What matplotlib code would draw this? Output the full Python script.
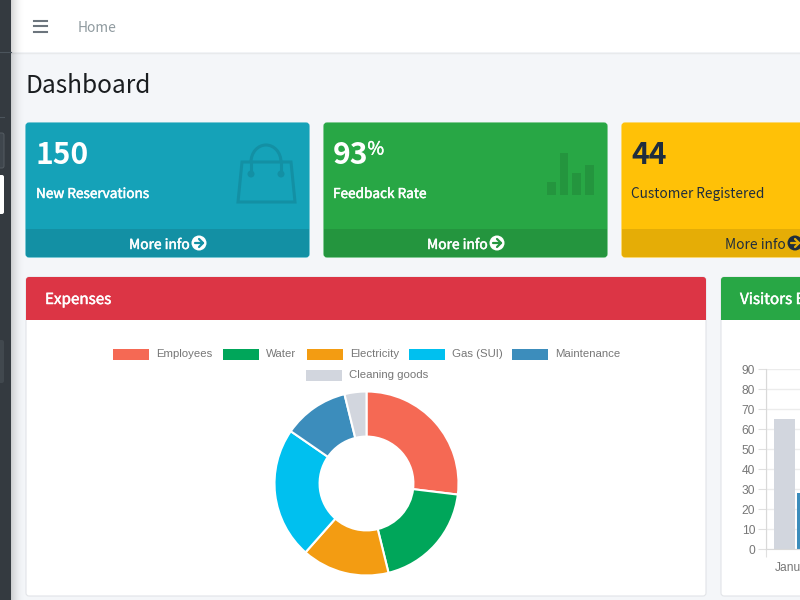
import matplotlib
matplotlib.use("Agg")
import matplotlib.pyplot as plt
import matplotlib.patheffects as pe
from matplotlib.patches import Rectangle, FancyBboxPatch, Circle, Polygon, Arc

# the latin letters of this family are the closest to the page's font
plt.rcParams["font.family"] = ["Noto Sans CJK SC", "DejaVu Sans"]

# expenses doughnut
expense_names = ["Employees", "Water", "Electricity", "Gas (SUI)", "Maintenance", "Cleaning goods"]
expense_values = [700, 500, 400, 600, 300, 100]
expense_colors = ["#f56954", "#00a65a", "#f39c12", "#00c0ef", "#3c8dbc", "#d2d6de"]

# visitors bars, only the start of it is on screen
months = ["January", "February", "March", "April", "May", "June", "July"]
visitors_a = [65, 59, 80, 81, 56, 55, 40]
visitors_b = [28, 48, 40, 19, 86, 27, 90]
y_ticks = [0, 10, 20, 30, 40, 50, 60, 70, 80, 90]

# small boxes on top
box_values = ["150", "93", "44"]
box_labels = ["New Reservations", "Feedback Rate", "Customer Registered"]
box_colors = ["#15a2b8", "#28a745", "#ffc107"]
box_footers = ["#1390a4", "#24953e", "#e5ad06"]
box_text = ["white", "white", "#1f2d3d"]
box_left = [26, 324, 622]
icon_bars = [13, 42, 22, 30]

fig = plt.figure(figsize=(8, 6), dpi=100, facecolor="#f4f6f9")

# one big axes in pixel coordinates for the page itself
page = fig.add_axes([0, 0, 1, 1])
page.set_xlim(0, 800)
page.set_ylim(600, 0)
page.axis("off")


def px(size):
    return size * 0.72


def card(x, y, w, h, color, edge="#e2e4e8"):
    patch = FancyBboxPatch((x, y), w, h, boxstyle="round,pad=0,rounding_size=3",
                           fc=color, ec=edge, lw=0.8, zorder=2)
    page.add_patch(patch)
    return patch


def arrow_icon(cx, cy, circle_color, arrow_color):
    page.add_patch(Circle((cx, cy), 7.5, fc=circle_color, ec="none", zorder=5))
    page.plot([cx - 4, cx + 4], [cy, cy], color=arrow_color, lw=1.6, zorder=6, solid_capstyle="round")
    page.plot([cx, cx + 4, cx], [cy - 4, cy, cy + 4], color=arrow_color, lw=1.6, zorder=6,
              solid_capstyle="round")


def thicken(text, color):
    # no medium weight in the font, a thin outline does the same
    text.set_path_effects([pe.withStroke(linewidth=0.35, foreground=color)])


# navbar
page.add_patch(Rectangle((0, 0), 800, 52, fc="white", ec="none", zorder=1))
page.plot([0, 800], [52.5, 52.5], color="#e8eaec", lw=1, zorder=1)
for y in [20.5, 26, 31.5]:
    page.plot([34, 47], [y, y], color="#6c757d", lw=1.5, zorder=2)
page.text(78, 31.5, "Home", fontsize=px(13.8), color="#8f9a9f", va="baseline", zorder=3)
page.text(26, 93, "Dashboard", fontsize=px(24.5), color="#1a1d20", va="baseline", zorder=3)

# sidebar with shadow
for i in range(14):
    page.add_patch(Rectangle((11 + i, 0), 1, 600, fc="black", ec="none",
                             alpha=0.16 * (1 - i / 14) ** 2, zorder=7))
page.add_patch(Rectangle((0, 0), 11, 600, fc="#343a40", ec="none", zorder=8))
page.plot([0, 11], [52, 52], color="#4b545c", lw=0.8, zorder=9)
page.plot([0, 4], [117, 117], color="#4b545c", lw=0.8, zorder=9)
page.add_patch(FancyBboxPatch((-6, 133), 10, 35, boxstyle="round,pad=0,rounding_size=2",
                              fc="#3f464d", ec="#555c63", lw=0.7, zorder=9))
page.add_patch(FancyBboxPatch((-6, 175), 10, 39, boxstyle="round,pad=0,rounding_size=2",
                              fc="white", ec="none", zorder=9))
page.add_patch(FancyBboxPatch((-6, 340), 10, 43, boxstyle="round,pad=0,rounding_size=2",
                              fc="#41484e", ec="none", zorder=9))

# small boxes
for i in range(3):
    x = box_left[i]
    body = card(x, 123, 283, 134, box_colors[i], edge=box_colors[i])
    foot = Rectangle((x, 229), 283, 28, fc=box_footers[i], ec="none", zorder=3)
    page.add_patch(foot)
    foot.set_clip_path(body)
    tx = x + 10 if i == 0 else x + 9
    page.text(tx, 163.5, box_values[i], fontsize=px(30), fontweight="bold", color=box_text[i],
              va="baseline", zorder=4)
    name = page.text(tx, 198, box_labels[i], fontsize=px(13.6), color=box_text[i], va="baseline", zorder=4)
    more = page.text(x + 103, 249, "More info", fontsize=px(13.8), color=box_text[i], va="baseline", zorder=4)
    if i < 2:
        thicken(name, box_text[i])
        thicken(more, box_text[i])
    arrow_icon(x + 173, 243, box_text[i], box_footers[i])
percent = page.text(367.5, 154.5, "%", fontsize=px(18), color="white", va="baseline", zorder=4)
thicken(percent, "white")

# bag icon
bag_color = "#1390a4"
page.add_patch(Polygon([(242, 162), (291, 162), (295, 202), (238, 202)], closed=True, fc="none",
                       ec=bag_color, lw=2.2, zorder=4))
page.add_patch(Arc((266, 162), 30, 34, theta1=180, theta2=360, color=bag_color, lw=2.2, zorder=4))
page.plot([251, 251], [162, 174], color=bag_color, lw=2.2, zorder=4)
page.plot([281, 281], [162, 174], color=bag_color, lw=2.2, zorder=4)
page.add_patch(Circle((251, 174), 3.5, fc=bag_color, ec="none", zorder=4))
page.add_patch(Circle((281, 174), 3.5, fc=bag_color, ec="none", zorder=4))

# chart icon in the green box
for i, h in enumerate(icon_bars):
    page.add_patch(Rectangle((547 + i * 12.7, 195 - h), 8.5, h, fc="#24953e", ec="none", zorder=4))

# chart cards
for x, w, title, color in [(26, 680, "Expenses", "#dc3545"), (721, 400, "Visitors Bar Chart", "#28a745")]:
    body = card(x, 277, w, 319, "white")
    head = Rectangle((x, 277), w, 43, fc=color, ec="none", zorder=3)
    page.add_patch(head)
    head.set_clip_path(body)
    title_text = page.text(x + 19, 304, title, fontsize=px(15.2), color="white", va="baseline", zorder=4)
    thicken(title_text, "white")

# legend of the doughnut
legend_box_x = [113, 223, 307, 409, 512, 306]
legend_box_y = [349, 349, 349, 349, 349, 370]
for name, color, lx, ly in zip(expense_names, expense_colors, legend_box_x, legend_box_y):
    page.add_patch(Rectangle((lx, ly), 36, 11, fc=color, ec="none", zorder=4))
    page.text(lx + 43, ly + 5, name, fontsize=px(11.4), color="#777777", va="center",
              family=["Liberation Sans"], zorder=4)

# doughnut
pie_ax = fig.add_axes([274.5 / 800, (600 - 575.5) / 600, 184 / 800, 184 / 600])
pie_ax.pie(expense_values, colors=expense_colors, startangle=90, counterclock=False, radius=1,
           wedgeprops={"width": 0.49, "edgecolor": "white", "linewidth": 1.5})
pie_ax.set_xlim(-1.0, 1.0)
pie_ax.set_ylim(-1.0, 1.0)

# bars, axes runs past the right edge of the picture
bar_ax = fig.add_axes([766 / 800, (600 - 549) / 600, 420 / 800, 180 / 600])
bar_ax.patch.set_alpha(0)
positions = range(len(months))
bar_ax.bar([p - 0.19 for p in positions], visitors_a, width=0.36, color="#d2d6de")
bar_ax.bar([p + 0.19 for p in positions], visitors_b, width=0.36, color="#3c8dbc")
bar_ax.set_xlim(-0.5, 6.5)
bar_ax.set_ylim(0, 90)
bar_ax.set_yticks(y_ticks)
bar_ax.set_xticks([p - 0.5 for p in range(8)])
bar_ax.set_xticklabels([])
bar_ax.set_xticks(list(positions), months, minor=True)
bar_ax.grid(True, color="#ececec", lw=1)
bar_ax.set_axisbelow(True)
bar_ax.tick_params(axis="y", length=px(8), color="#e0e0e0", labelcolor="#777777", labelsize=px(12), pad=2)
bar_ax.tick_params(axis="x", which="major", length=px(8), color="#e0e0e0")
bar_ax.tick_params(axis="x", which="minor", length=0, labelcolor="#777777", labelsize=px(12), pad=9)
for label in bar_ax.get_yticklabels() + bar_ax.get_xticklabels(minor=True):
    label.set_family(["Liberation Sans"])
for side in ["top", "right"]:
    bar_ax.spines[side].set_visible(False)
bar_ax.spines["left"].set_color("#d9d9d9")
bar_ax.spines["bottom"].set_color("#d9d9d9")

fig.savefig("out.png", dpi=100, facecolor=fig.get_facecolor())
